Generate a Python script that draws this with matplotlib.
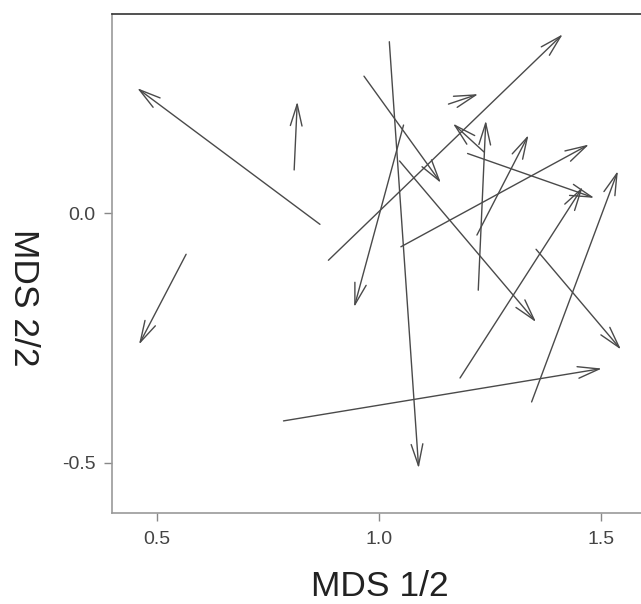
import matplotlib
matplotlib.use("Agg")
import matplotlib.pyplot as plt
from matplotlib.patches import FancyArrowPatch

plt.rcParams['font.family'] = ['Liberation Sans', 'DejaVu Sans']

# arrow tails (x0, y0) and heads (x1, y1)
x0 = [0.867, 0.809, 0.566, 1.055, 1.023, 0.886, 0.966, 1.156, 1.236,
      1.223, 1.220, 1.049, 1.199, 1.182, 1.343, 1.353, 1.046, 0.785]
y0 = [-0.022, 0.087, -0.082, 0.177, 0.344, -0.094, 0.275, 0.219, 0.123,
      -0.154, -0.0435, -0.067, 0.120, -0.330, -0.378, -0.072, 0.105, -0.416]
x1 = [0.456, 0.816, 0.460, 0.944, 1.089, 1.413, 1.139, 1.223, 1.166,
      1.240, 1.336, 1.472, 1.484, 1.458, 1.537, 1.544, 1.353, 1.501]
y1 = [0.251, 0.224, -0.263, -0.188, -0.511, 0.359, 0.061, 0.239, 0.180,
      0.186, 0.157, 0.138, 0.031, 0.053, 0.085, -0.273, -0.218, -0.311]

xticks = [0.5, 1.0, 1.5]
xticklabels = ["0.5", "1.0", "1.5"]
yticks = [0.0, -0.5]
yticklabels = ["0.0", "-0.5"]

W, H = 641, 604
fig = plt.figure(figsize=(W / 100, H / 100), dpi=100)
left, right, top, bottom = 112.3, 641, 14, 512.7
ax = fig.add_axes([left / W, (H - bottom) / H, (right - left) / W, (bottom - top) / H])
ax.set_xlim(0.400, 1.589)
ax.set_ylim(-0.600, 0.3996)

col = '#4a4a4a'
for a, b, c, d in zip(x0, y0, x1, y1):
    arr = FancyArrowPatch((a, b), (c, d), arrowstyle='->,head_length=15.5,head_width=4.2',
                          mutation_scale=1, shrinkA=0, shrinkB=0,
                          color=col, lw=1.0)
    ax.add_patch(arr)

ax.set_xticks(xticks)
ax.set_xticklabels(xticklabels)
ax.set_yticks(yticks)
ax.set_yticklabels(yticklabels)
ax.tick_params(axis='both', colors='#888888', labelcolor='#444444', labelsize=14,
               length=6, width=1.0)
ax.tick_params(axis='x', pad=7.5)
ax.tick_params(axis='y', pad=6)
ax.spines['right'].set_visible(False)
ax.spines['top'].set_color('#333333')
ax.spines['left'].set_color('#999999')
ax.spines['bottom'].set_color('#999999')
for s in ax.spines.values():
    s.set_linewidth(1.2)

fig.text(380 / W, 1 - 586 / H, "MDS 1/2", ha='center', va='center', fontsize=25.5, color='#222222')
fig.text(23 / W, 1 - 297.5 / H, "MDS 2/2", ha='center', va='center', fontsize=25.5,
         color='#222222', rotation=270)

fig.savefig("out.png", dpi=100)
